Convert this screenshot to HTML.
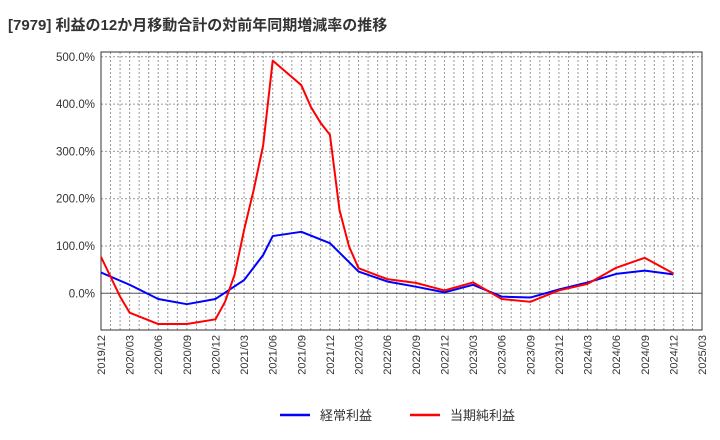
<!DOCTYPE html>
<html><head><meta charset="utf-8"><style>
body{margin:0;background:#fff;}
svg{display:block;font-family:"Liberation Sans","Noto Sans CJK JP",sans-serif;}
</style></head><body>
<svg id="c" width="720" height="440">
<text x="8" y="30" font-size="15" font-weight="bold" fill="#333">[7979]  利益の12か月移動合計の対前年同期増減率の推移</text>
<g id="grid"></g><g id="axes"></g><g id="series"></g>
<g>
<line x1="280" y1="415" x2="310" y2="415" stroke="#0000ff" stroke-width="2.5"/>
<text x="320" y="420" font-size="13" fill="#333">経常利益</text>
<line x1="410" y1="415" x2="440" y2="415" stroke="#ff0000" stroke-width="2.5"/>
<text x="450" y="420" font-size="13" fill="#333">当期純利益</text>
</g>
</svg>
<script>
const xTickLabels=["2019/12","2020/03","2020/06","2020/09","2020/12","2021/03","2021/06","2021/09","2021/12","2022/03","2022/06","2022/09","2022/12","2023/03","2023/06","2023/09","2023/12","2024/03","2024/06","2024/09","2024/12","2025/03"];
const yTicks=[0,100,200,300,400,500];
// month index from 2019/12
const blueMonths=[0,3,6,9,12,15,17,18,21,24,27,30,33,36,39,42,45,48,51,54,57,60];
const blueValues=[44,18,-12,-23,-12,28,81,121,130,106,46,25,14,2,18,-7,-9,8,23,41,48,40];
const redMonths=[0,2,3,6,9,12,13,14,15,16,17,18,21,22,23,24,25,26,27,30,33,36,39,42,45,48,51,54,57,60];
const redValues=[77,-7,-41,-65,-65,-55,-18,39,134,218,313,492,440,394,361,335,176,99,53,30,22,6,23,-12,-18,6,20,54,75,42];
const L=101,R=702,T=52,B=330,Y0=293.3,PER=0.473;
const NS="http://www.w3.org/2000/svg";
const X=m=>L+m*(R-L)/63, Y=v=>Y0-v*PER;
function mk(t,a,p){const e=document.createElementNS(NS,t);for(const k in a)e.setAttribute(k,a[k]);p.appendChild(e);return e;}
const g=document.getElementById('grid'),ax=document.getElementById('axes'),s=document.getElementById('series');
for(let m=1;m<63;m++){const l=mk('line',{x1:X(m),x2:X(m),y1:T,y2:B,stroke:'#999','stroke-dasharray':'2,2','stroke-width':1},g);

}
yTicks.forEach(v=>{const l=mk('line',{x1:L,x2:R,y1:Y(v),y2:Y(v),stroke:v===0?'#555':'#999','stroke-dasharray':v===0?'':'2,2','stroke-width':1},g);


const t=mk('text',{x:L-6,y:Y(v)+4,'text-anchor':'end','font-size':11.5,fill:'#333'},ax);t.textContent=v.toFixed(1)+'%';

});
const fr=mk('rect',{x:L,y:T,width:R-L,height:B-T,fill:'none',stroke:'#333','stroke-width':1},ax);


xTickLabels.forEach((lab,i)=>{const x=X(i*3);const t=mk('text',{x:x+4,y:B+5,'text-anchor':'end','font-size':11,fill:'#333',transform:`rotate(-90 ${x+4} ${B+5})`},ax);t.textContent=lab;

});
function line(ms,vs,c,n){const p=mk('polyline',{points:ms.map((m,i)=>X(m)+','+Y(vs[i])).join(' '),fill:'none',stroke:c,'stroke-width':2,'stroke-linejoin':'round'},s);

}
line(blueMonths,blueValues,'#0000ff','series-keijo-rieki');
line(redMonths,redValues,'#ff0000','series-touki-junrieki');
</script>
</body></html>
